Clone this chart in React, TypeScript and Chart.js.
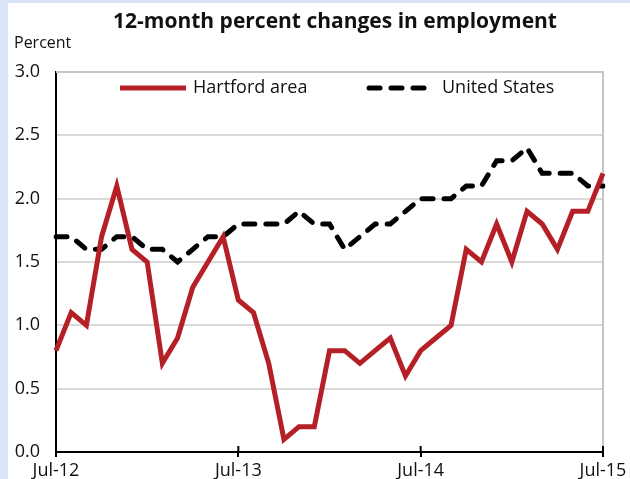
import React, { useEffect, useRef } from "react";
import { Chart, registerables } from "chart.js";

Chart.register(...registerables);

const months = [
  "Jul-12", "Aug-12", "Sep-12", "Oct-12", "Nov-12", "Dec-12",
  "Jan-13", "Feb-13", "Mar-13", "Apr-13", "May-13", "Jun-13",
  "Jul-13", "Aug-13", "Sep-13", "Oct-13", "Nov-13", "Dec-13",
  "Jan-14", "Feb-14", "Mar-14", "Apr-14", "May-14", "Jun-14",
  "Jul-14", "Aug-14", "Sep-14", "Oct-14", "Nov-14", "Dec-14",
  "Jan-15", "Feb-15", "Mar-15", "Apr-15", "May-15", "Jun-15",
  "Jul-15",
];

const hartford = [
  0.8, 1.1, 1.0, 1.7, 2.1, 1.6, 1.5, 0.7, 0.9, 1.3, 1.5, 1.7,
  1.2, 1.1, 0.7, 0.1, 0.2, 0.2, 0.8, 0.8, 0.7, 0.8, 0.9, 0.6,
  0.8, 0.9, 1.0, 1.6, 1.5, 1.8, 1.5, 1.9, 1.8, 1.6, 1.9, 1.9,
  2.2,
];

const unitedStates = [
  1.7, 1.7, 1.6, 1.6, 1.7, 1.7, 1.6, 1.6, 1.5, 1.6, 1.7, 1.7,
  1.8, 1.8, 1.8, 1.8, 1.9, 1.8, 1.8, 1.6, 1.7, 1.8, 1.8, 1.9,
  2.0, 2.0, 2.0, 2.1, 2.1, 2.3, 2.3, 2.4, 2.2, 2.2, 2.2, 2.1,
  2.1,
];

const xTickLabels = ["Jul-12", "Jul-13", "Jul-14", "Jul-15"];
const seriesNames = ["Hartford area", "United States"];
const chartTitle = "12-month percent changes in employment";
const yAxisTitle = "Percent";

const FONT = "'Open Sans'";
const RED = "#b42026";

const decorPlugin = {
  id: "decor",
  beforeDraw(chart: any) {
    const ctx = chart.ctx;
    ctx.save();
    ctx.fillStyle = "#ffffff";
    ctx.fillRect(0, 0, chart.width, chart.height);
    ctx.restore();
  },
  beforeDatasetsDraw(chart: any) {
    const ctx = chart.ctx;
    const { left, right, top, bottom } = chart.chartArea;
    ctx.save();
    ctx.strokeStyle = "#c6c6c6";
    ctx.lineWidth = 2;
    ctx.beginPath();
    ctx.moveTo(left, top);
    ctx.lineTo(right, top);
    ctx.lineTo(right, bottom);
    ctx.stroke();
    // tick marks above axis
    const xs = chart.scales.x;
    ctx.strokeStyle = "#000";
    ctx.lineWidth = 2;
    xTickLabels.forEach((lab) => {
      const idx = months.indexOf(lab);
      const px = xs.getPixelForValue(idx);
      ctx.beginPath();
      ctx.moveTo(px, bottom - 6);
      ctx.lineTo(px, bottom);
      ctx.stroke();
    });
    ctx.restore();
  },
  afterDraw(chart: any) {
    const ctx = chart.ctx;
    ctx.save();
    // title
    ctx.fillStyle = "#111";
    ctx.textAlign = "center";
    ctx.textBaseline = "middle";
    ctx.font = `bold 21px ${FONT}`;
    ctx.fillText(chartTitle, 327, 19);
    // y axis title
    ctx.textAlign = "left";
    ctx.font = `16px ${FONT}`;
    ctx.fillText(yAxisTitle, 6, 40);
    // legend
    const legendY = 85;
    const items = [
      { x: 109, ds: chart.data.datasets[0] },
      { x: 358, ds: chart.data.datasets[1] },
    ];
    items.forEach(({ x, ds }) => {
      ctx.save();
      ctx.strokeStyle = ds.borderColor;
      ctx.lineWidth = ds.borderWidth;
      ctx.lineCap = ds.borderCapStyle || "butt";
      ctx.setLineDash(ds.borderDash || []);
      ctx.beginPath();
      ctx.moveTo(x + 3, legendY);
      ctx.lineTo(x + 69, legendY);
      ctx.stroke();
      ctx.restore();
      ctx.fillStyle = "#111";
      ctx.font = `18px ${FONT}`;
      ctx.textAlign = "left";
      ctx.textBaseline = "middle";
      ctx.fillText(ds.label, x + 76, legendY);
    });
    ctx.restore();
  },
};

export default function App() {
  const ref = useRef<HTMLCanvasElement | null>(null);

  useEffect(() => {
    if (!ref.current) return;
    const chart = new Chart(ref.current, {
      type: "line",
      data: {
        labels: months,
        datasets: [
          {
            label: seriesNames[0],
            data: hartford,
            borderColor: RED,
            borderWidth: 5,
            borderCapStyle: "butt",
            borderJoinStyle: "miter",
            pointRadius: 0,
            tension: 0,
            fill: false,
          },
          {
            label: seriesNames[1],
            data: unitedStates,
            borderColor: "#000000",
            borderWidth: 5,
            borderDash: [11, 11],
            borderCapStyle: "round",
            pointRadius: 0,
            tension: 0,
            fill: false,
          },
        ],
      },
      options: {
        responsive: false,
        animation: false,
        devicePixelRatio: 1,
        layout: { padding: { top: 69, left: 0, right: 27, bottom: 0 } },
        plugins: {
          legend: { display: false },
          title: { display: false },
          tooltip: { enabled: false },
        },
        scales: {
          x: {
            type: "category",
            offset: false,
            afterFit: (s: any) => {
              s.height = 27;
            },
            grid: {
              display: true,
              drawOnChartArea: false,
              drawTicks: true,
              tickLength: 5,
              color: "#000",
              lineWidth: 2,
            },
            border: { display: true, color: "#000", width: 2 },
            ticks: {
              autoSkip: false,
              maxRotation: 0,
              minRotation: 0,
              padding: 3,
              color: "#111",
              font: { family: FONT, size: 18 },
              callback: (_v: any, i: number) =>
                xTickLabels.includes(months[i]) ? months[i] : null,
            },
          },
          y: {
            min: 0,
            max: 3,
            afterFit: (s: any) => {
              s.width = 48;
            },
            grid: {
              color: "#d9d9d9",
              lineWidth: 2,
              drawTicks: false,
            },
            border: { display: true, color: "#000", width: 2 },
            ticks: {
              stepSize: 0.5,
              padding: 16,
              color: "#111",
              font: { family: FONT, size: 18 },
              callback: (v: any) => Number(v).toFixed(1),
            },
          },
        },
      },
      plugins: [decorPlugin],
    });
    return () => chart.destroy();
  }, []);

  return (
    <div
      style={{
        position: "absolute",
        left: 0,
        top: 0,
        width: 630,
        height: 479,
        background: "#dbe5f8",
        overflow: "hidden",
      }}
    >
      <canvas
        ref={ref}
        width={622}
        height={476}
        style={{ position: "absolute", left: 8, top: 3, width: 622, height: 476 }}
      />
    </div>
  );
}
